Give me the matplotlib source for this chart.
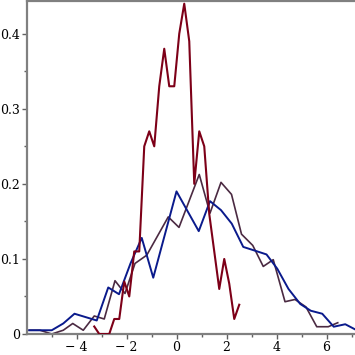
import matplotlib
matplotlib.use('Agg')
import matplotlib.pyplot as plt
from matplotlib.ticker import MultipleLocator, FuncFormatter

# red series (narrow peak)
red_x = [-3.29, -3.09, -2.89, -2.69, -2.49, -2.29, -2.09, -1.89, -1.69, -1.49,
         -1.29, -1.09, -0.89, -0.69, -0.49, -0.29, -0.09, 0.11, 0.31, 0.51,
         0.71, 0.91, 1.11, 1.31, 1.51, 1.71, 1.91, 2.11, 2.31, 2.51]
red_y = [0.01, 0.0, 0.0, 0.0, 0.02, 0.02, 0.07, 0.05, 0.11, 0.11,
         0.25, 0.27, 0.25, 0.33, 0.38, 0.33, 0.33, 0.40, 0.44, 0.39,
         0.20, 0.27, 0.25, 0.16, 0.11, 0.06, 0.10, 0.067, 0.02, 0.039]

# blue series
blue_x = [-5.89, -4.99, -4.53, -4.08, -3.19, -2.73, -2.3, -1.84, -1.39, -0.93,
          0.0, 0.89, 1.34, 1.78, 2.21, 2.67, 3.14, 3.6, 4.03, 4.48,
          4.95, 5.37, 5.83, 6.29, 6.75, 7.21]
blue_y = [0.005, 0.005, 0.014, 0.027, 0.018, 0.062, 0.053, 0.094, 0.128, 0.075,
          0.19, 0.137, 0.177, 0.165, 0.147, 0.116, 0.111, 0.106, 0.087, 0.06,
          0.04, 0.031, 0.027, 0.0097, 0.013, 0.005]

# dark purple series
purp_x = [-5.89, -5.46, -4.99, -4.53, -4.15, -3.73, -3.29, -2.89, -2.46, -2.06,
          -1.66, -1.19, -0.33, 0.1, 0.91, 1.34, 1.78, 2.2, 2.6, 3.05,
          3.47, 3.87, 4.34, 4.74, 5.18, 5.61, 6.07, 6.45]
purp_y = [0.005, 0.005, 0.0, 0.005, 0.014, 0.005, 0.024, 0.02, 0.071, 0.054,
          0.094, 0.105, 0.156, 0.142, 0.2125, 0.161, 0.202, 0.186, 0.133, 0.118,
          0.09, 0.099, 0.043, 0.046, 0.036, 0.0097, 0.0097, 0.015]

fig = plt.figure(figsize=(3.55, 3.55), dpi=100)
ax = fig.add_axes([27/355, 21/355, 328/355, 333/355])

ax.plot(purp_x, purp_y, color='#4b2a42', lw=1.2, zorder=2)
ax.plot(blue_x, blue_y, color='#0a1a8c', lw=1.4, zorder=3)
ax.plot(red_x, red_y, color='#7d0018', lw=1.5, zorder=4)

ax.set_xlim(-5.98, 7.14)
ax.set_ylim(0, 0.4436)

ax.xaxis.set_major_locator(MultipleLocator(2))
ax.xaxis.set_minor_locator(MultipleLocator(1))
ax.yaxis.set_major_locator(MultipleLocator(0.1))
ax.yaxis.set_minor_locator(MultipleLocator(0.05))

def yfmt(v, pos):
    if abs(v) < 1e-9:
        return '0'
    return '%.1f' % v

def xfmt(v, pos):
    if abs(v) < 1e-9:
        return '0'
    s = '%d' % round(v)
    return s.replace('-', '\u2212 ')

ax.yaxis.set_major_formatter(FuncFormatter(yfmt))
ax.xaxis.set_major_formatter(FuncFormatter(xfmt))

for sp in ['left', 'bottom', 'top']:
    ax.spines[sp].set_color('#808080')
    ax.spines[sp].set_linewidth(1.6)
ax.spines['right'].set_visible(False)

ax.tick_params(axis='both', which='both', color='#606060', direction='out',
               labelsize=9, pad=1.5)
ax.tick_params(which='major', length=3.5, width=1)
ax.tick_params(which='minor', length=2.5, width=1)
for lab in ax.get_xticklabels() + ax.get_yticklabels():
    lab.set_family('DejaVu Serif')

fig.savefig('out.png', dpi=100)
